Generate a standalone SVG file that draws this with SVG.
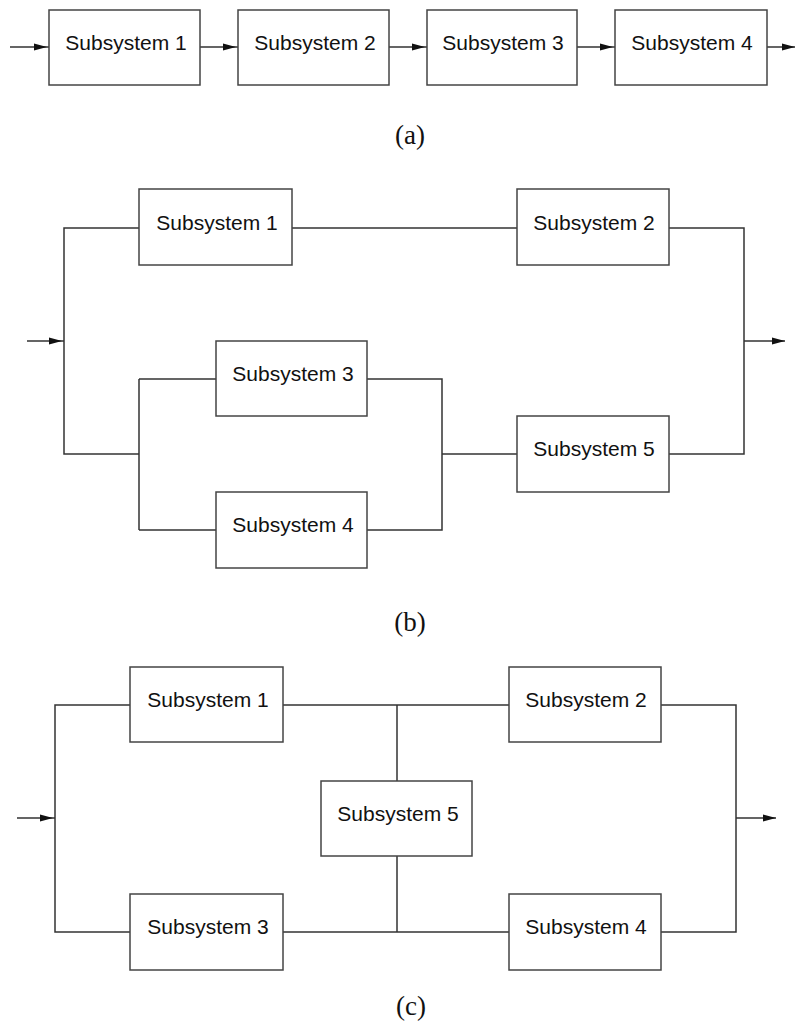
<svg xmlns="http://www.w3.org/2000/svg" xmlns:xlink="http://www.w3.org/1999/xlink" width="798" height="1026" viewBox="0 0 798 1026">
<style>
.box{fill:#fff;stroke:#444;stroke-width:1.5}
.lbl{font-family:"Liberation Sans",Arial,sans-serif;font-size:21px;fill:#111;text-anchor:middle}
.cap{font-family:"Liberation Serif","Times New Roman",serif;font-size:27px;fill:#111;text-anchor:middle}
.wire{fill:none;stroke:#333;stroke-width:1.5}
.ah{fill:#111}
</style>
<defs>
<path id="ah" d="M0,0 L-13,-3.5 L-13,3.5 Z"/>
</defs>
<rect width="798" height="1026" fill="#fff"/>

<!-- (a) series -->
<g id="connectors-a">
<path class="wire" d="M10,47H49 M200,47H238 M389,47H427 M577,47H615 M767,47H795"/>
<use href="#ah" class="ah" x="47" y="47"/>
<use href="#ah" class="ah" x="236" y="47"/>
<use href="#ah" class="ah" x="425" y="47"/>
<use href="#ah" class="ah" x="613" y="47"/>
<use href="#ah" class="ah" x="795" y="47"/>
</g>
<g id="a-s1"><rect class="box" x="49" y="10" width="151" height="75"/><text class="lbl" x="126" y="50">Subsystem 1</text></g>
<g id="a-s2"><rect class="box" x="238" y="10" width="151" height="75"/><text class="lbl" x="315" y="50">Subsystem 2</text></g>
<g id="a-s3"><rect class="box" x="427" y="10" width="150" height="75"/><text class="lbl" x="503" y="50">Subsystem 3</text></g>
<g id="a-s4"><rect class="box" x="615" y="10" width="152" height="75"/><text class="lbl" x="692" y="50">Subsystem 4</text></g>
<text class="cap" x="410" y="144">(a)</text>

<!-- (b) -->
<g id="connectors-b">
<path class="wire" d="M27,341H64 M292,228H517 M139,228H64V454H139 M139,379V530 M139,379H216 M139,530H216 M367,379H442V530H367 M442,454H517 M669,454H744V228H669 M744,341H785"/>
<use href="#ah" class="ah" x="62" y="341"/>
<use href="#ah" class="ah" x="785" y="341"/>
</g>
<g id="b-s1"><rect class="box" x="139" y="189" width="153" height="76"/><text class="lbl" x="217" y="230">Subsystem 1</text></g>
<g id="b-s2"><rect class="box" x="517" y="189" width="152" height="76"/><text class="lbl" x="594" y="230">Subsystem 2</text></g>
<g id="b-s3"><rect class="box" x="216" y="341" width="151" height="75"/><text class="lbl" x="293" y="381">Subsystem 3</text></g>
<g id="b-s4"><rect class="box" x="216" y="492" width="151" height="76"/><text class="lbl" x="293" y="532">Subsystem 4</text></g>
<g id="b-s5"><rect class="box" x="517" y="416" width="152" height="76"/><text class="lbl" x="594" y="456">Subsystem 5</text></g>
<text class="cap" x="410" y="631">(b)</text>

<!-- (c) -->
<g id="connectors-c">
<path class="wire" d="M17,818H55 M130,705H55V932H130 M283,705H509 M283,932H509 M397,705V781 M397,856V932 M661,705H736V932H661 M736,818H776"/>
<use href="#ah" class="ah" x="53" y="818"/>
<use href="#ah" class="ah" x="776" y="818"/>
</g>
<g id="c-s1"><rect class="box" x="130" y="667" width="153" height="75"/><text class="lbl" x="208" y="707">Subsystem 1</text></g>
<g id="c-s2"><rect class="box" x="509" y="667" width="152" height="75"/><text class="lbl" x="586" y="707">Subsystem 2</text></g>
<g id="c-s5"><rect class="box" x="321" y="781" width="151" height="75"/><text class="lbl" x="398" y="821">Subsystem 5</text></g>
<g id="c-s3"><rect class="box" x="130" y="894" width="153" height="76"/><text class="lbl" x="208" y="934">Subsystem 3</text></g>
<g id="c-s4"><rect class="box" x="509" y="894" width="152" height="76"/><text class="lbl" x="586" y="934">Subsystem 4</text></g>
<text class="cap" x="411" y="1015">(c)</text>
</svg>
